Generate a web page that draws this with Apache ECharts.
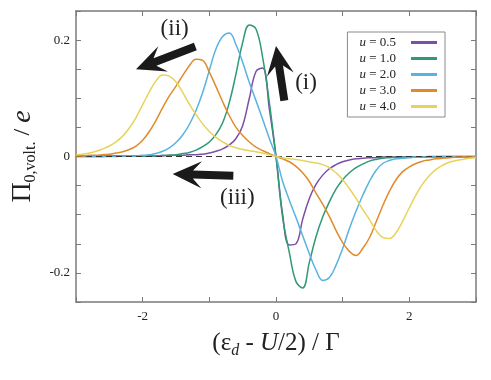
<!DOCTYPE html>
<html>
<head>
<meta charset="utf-8">
<script src="https://cdn.jsdelivr.net/npm/echarts@6/dist/echarts.min.js"></script>
<style>
  html, body { margin: 0; padding: 0; background: #fff; }
  #chart { width: 491px; height: 380px; }
</style>
</head>
<body>
<div id="chart"></div>
<script>
// (eps_d - U/2)/Gamma grid
const eps = [
  -3.0, -2.9, -2.8, -2.7, -2.6, -2.5, -2.4, -2.3, -2.2, -2.1,
  -2.0, -1.9, -1.8, -1.7, -1.6, -1.5, -1.4, -1.3, -1.2, -1.1,
  -1.0, -0.9, -0.8, -0.7, -0.6, -0.5, -0.4, -0.3, -0.2, -0.1,
  0,
  0.1, 0.2, 0.3, 0.4, 0.5, 0.6, 0.7, 0.8, 0.9, 1.0,
  1.1, 1.2, 1.3, 1.4, 1.5, 1.6, 1.7, 1.8, 1.9, 2.0,
  2.1, 2.2, 2.3, 2.4, 2.5, 2.6, 2.7, 2.8, 2.9, 3.0
];

const u05 = [
  0.001, 0.001, 0.001, 0.001, 0.001, 0.001, 0.001, 0.001, 0.001, 0.001,
  0.001, 0.001, 0.001, 0.001, 0.002, 0.002, 0.002, 0.003, 0.003, 0.004,
  0.006, 0.009, 0.013, 0.020, 0.031, 0.053, 0.100, 0.146, 0.152, 0.082,
  0,
  -0.100, -0.152, -0.150, -0.108, -0.072, -0.048, -0.032, -0.021, -0.014, -0.009,
  -0.006, -0.004, -0.003, -0.002, -0.002, -0.001, -0.001, -0.001, -0.001, -0.001,
  -0.001, -0.001, -0.001, -0.001, -0.001, -0.001, -0.001, -0.001, -0.001, -0.001
];
const u10 = [
  0.000, 0.000, 0.000, 0.000, 0.000, 0.001, 0.001, 0.001, 0.001, 0.001,
  0.001, 0.001, 0.001, 0.002, 0.002, 0.003, 0.005, 0.007, 0.011, 0.017,
  0.025, 0.038, 0.058, 0.093, 0.142, 0.196, 0.226, 0.219, 0.170, 0.093,
  0,
  -0.105, -0.165, -0.215, -0.226, -0.182, -0.138, -0.104, -0.078, -0.056, -0.040,
  -0.028, -0.019, -0.013, -0.008, -0.005, -0.003, -0.002, -0.001, -0.001, -0.001,
  -0.001, -0.001, 0.000, 0.000, 0.000, 0.000, 0.000, 0.000, 0.000, 0.000
];
const u20 = [
  0.000, 0.000, 0.000, 0.000, 0.000, 0.000, 0.000, 0.001, 0.001, 0.001,
  0.002, 0.003, 0.005, 0.009, 0.015, 0.024, 0.037, 0.055, 0.079, 0.110,
  0.148, 0.185, 0.206, 0.212, 0.192, 0.162, 0.127, 0.096, 0.064, 0.031,
  0,
  -0.043, -0.075, -0.105, -0.136, -0.167, -0.195, -0.213, -0.208, -0.187, -0.158,
  -0.124, -0.094, -0.067, -0.043, -0.024, -0.012, -0.007, -0.004, -0.003, -0.002,
  -0.001, -0.001, -0.001, -0.001, 0.000, 0.000, 0.000, 0.000, 0.000, 0.000
];
const u30 = [
  0.001, 0.001, 0.002, 0.002, 0.003, 0.004, 0.006, 0.008, 0.012, 0.018,
  0.028, 0.043, 0.062, 0.084, 0.104, 0.121, 0.139, 0.156, 0.167, 0.165,
  0.145, 0.120, 0.094, 0.070, 0.050, 0.036, 0.025, 0.016, 0.010, 0.005,
  0,
  -0.004, -0.009, -0.017, -0.028, -0.043, -0.063, -0.082, -0.103, -0.127, -0.148,
  -0.163, -0.170, -0.158, -0.140, -0.113, -0.085, -0.060, -0.040, -0.026, -0.018,
  -0.012, -0.008, -0.006, -0.004, -0.003, -0.002, -0.001, -0.001, -0.001, -0.001
];
const u40 = [
  0.003, 0.004, 0.006, 0.009, 0.013, 0.018, 0.025, 0.035, 0.049, 0.067,
  0.089, 0.111, 0.130, 0.140, 0.138, 0.128, 0.110, 0.090, 0.072, 0.056,
  0.043, 0.033, 0.025, 0.019, 0.015, 0.012, 0.010, 0.008, 0.006, 0.003,
  0,
  -0.002, -0.004, -0.005, -0.007, -0.009, -0.011, -0.014, -0.019, -0.028, -0.040,
  -0.055, -0.072, -0.091, -0.108, -0.127, -0.139, -0.141, -0.131, -0.111, -0.088,
  -0.066, -0.047, -0.033, -0.022, -0.015, -0.010, -0.007, -0.005, -0.003, -0.002
];

const names = ["0.5", "1.0", "2.0", "3.0", "4.0"];
const values = [u05, u10, u20, u30, u40];
const colors = ["#7b4fa6", "#2e9a76", "#58b3e2", "#e08b2b", "#e6d45a"];

const xTickLabels = [-2, 0, 2];
const yTickLabels = [-0.2, 0, 0.2];

// annotation arrows, in data units: [tail, tip]
const arrows = [
  { label: "(i)", from: [0.125, 0.096], to: [0.0, 0.190], labelAt: [0.45, 0.127] },
  { label: "(ii)", from: [-1.21, 0.189], to: [-2.10, 0.150], labelAt: [-1.52, 0.219] },
  { label: "(iii)", from: [-0.64, -0.033], to: [-1.55, -0.030], labelAt: [-0.58, -0.071] }
];

const serif = "'Liberation Serif', 'DejaVu Serif', serif";
const frame = "#7a7a7a";

const chart = echarts.init(document.getElementById("chart"));

chart.setOption({
  animation: false,
  backgroundColor: "#fff",
  grid: { left: 76, right: 15, top: 11, bottom: 78, outerBoundsMode: "none" },
  legend: {
    orient: "vertical",
    right: 46,
    top: 32,
    align: "right",
    icon: "rect",
    itemWidth: 26,
    itemHeight: 3,
    itemGap: 3,
    padding: [4, 8, 4, 12],
    borderColor: "#8a8a8a",
    borderWidth: 1,
    formatter: (n) => "{i|u} = " + n.replace("u = ", "") + "{s|}",
    textStyle: {
      fontFamily: serif,
      fontSize: 13,
      color: "#222",
      rich: {
        i: { fontFamily: serif, fontSize: 13, fontStyle: "italic", color: "#222" },
        s: { width: 10 }
      }
    }
  },
  xAxis: [
    {
      type: "value",
      min: -3,
      max: 3,
      interval: 1,
      name: "{t|(ε}{d|d}{t| - }{it|U}{t|/2) / Γ}",
      nameLocation: "middle",
      nameGap: 26,
      nameTextStyle: {
        rich: {
          t: { fontFamily: serif, fontSize: 25, color: "#222" },
          it: { fontFamily: serif, fontSize: 25, fontStyle: "italic", color: "#222" },
          d: { fontFamily: serif, fontSize: 16, fontStyle: "italic", color: "#222", padding: [15, 0, 0, 0] }
        }
      },
      axisLine: { onZero: false, lineStyle: { color: frame, width: 1.5 } },
      axisTick: { inside: true, length: 5, lineStyle: { color: frame, width: 1 } },
      splitLine: { show: false },
      axisLabel: {
        margin: 8,
        fontFamily: serif,
        fontSize: 13,
        color: "#222",
        formatter: (v) => (xTickLabels.some((t) => Math.abs(t - v) < 1e-6) ? String(v) : "")
      }
    },
    {
      type: "value",
      position: "top",
      min: -3,
      max: 3,
      interval: 1,
      axisLine: { show: true, onZero: false, lineStyle: { color: frame, width: 1.5 } },
      axisTick: { inside: true, length: 5, lineStyle: { color: frame, width: 1 } },
      axisLabel: { show: false },
      splitLine: { show: false }
    }
  ],
  yAxis: [
    {
      type: "value",
      min: -0.25,
      max: 0.25,
      interval: 0.05,
      name: "{p|Π}{s|0,volt.}{t| / }{e|e}",
      nameLocation: "middle",
      nameRotate: 90,
      nameGap: 32,
      nameTextStyle: {
        rich: {
          p: { fontFamily: serif, fontSize: 28, color: "#222" },
          t: { fontFamily: serif, fontSize: 24, color: "#222" },
          e: { fontFamily: serif, fontSize: 28, fontStyle: "italic", color: "#222" },
          s: { fontFamily: serif, fontSize: 16, color: "#222", padding: [16, 0, 0, 0] }
        }
      },
      axisLine: { show: true, onZero: false, lineStyle: { color: frame, width: 1.5 } },
      axisTick: { show: true, inside: true, length: 5, lineStyle: { color: frame, width: 1 } },
      splitLine: { show: false },
      axisLabel: {
        margin: 6,
        fontFamily: serif,
        fontSize: 13,
        color: "#222",
        formatter: (v) => {
          const hit = yTickLabels.find((t) => Math.abs(t - v) < 1e-6);
          return hit === undefined ? "" : String(hit);
        }
      }
    },
    {
      type: "value",
      position: "right",
      min: -0.25,
      max: 0.25,
      interval: 0.05,
      axisLine: { show: true, onZero: false, lineStyle: { color: frame, width: 1.5 } },
      axisTick: { show: true, inside: true, length: 5, lineStyle: { color: frame, width: 1 } },
      axisLabel: { show: false },
      splitLine: { show: false }
    }
  ],
  series: values.map((vals, k) => ({
    type: "line",
    name: "u = " + names[k],
    data: eps.map((x, i) => [x, vals[i]]),
    smooth: 0.4,
    showSymbol: false,
    color: colors[k],
    lineStyle: { width: 1.5, color: colors[k] },
    z: 2 + k,
    markLine: k === values.length - 1 ? {
      silent: true,
      symbol: "none",
      label: { show: false },
      lineStyle: { color: "#333", type: [6, 4], width: 1 },
      data: [{ yAxis: 0 }]
    } : undefined
  }))
});

// arrows drawn as polygons from data coords
function arrowShape(a, b, shaftW, headL, headW) {
  const dx = b[0] - a[0], dy = b[1] - a[1];
  const len = Math.sqrt(dx * dx + dy * dy);
  const ux = dx / len, uy = dy / len;
  const nx = -uy, ny = ux;
  const base = [b[0] - ux * headL, b[1] - uy * headL];
  const neck = [b[0] - ux * headL * 0.7, b[1] - uy * headL * 0.7];
  return [
    b,
    [base[0] + nx * headW / 2, base[1] + ny * headW / 2],
    [neck[0] + nx * shaftW / 2, neck[1] + ny * shaftW / 2],
    [a[0] + nx * shaftW / 2, a[1] + ny * shaftW / 2],
    [a[0] - nx * shaftW / 2, a[1] - ny * shaftW / 2],
    [neck[0] - nx * shaftW / 2, neck[1] - ny * shaftW / 2],
    [base[0] - nx * headW / 2, base[1] - ny * headW / 2]
  ];
}

const gfx = [];
arrows.forEach((ar) => {
  const a = chart.convertToPixel({ gridIndex: 0 }, ar.from);
  const b = chart.convertToPixel({ gridIndex: 0 }, ar.to);
  const p = chart.convertToPixel({ gridIndex: 0 }, ar.labelAt);
  gfx.push({
    type: "polygon",
    z: 50,
    shape: { points: arrowShape(a, b, 8, 29, 27) },
    style: { fill: "#1a1a1a" }
  });
  gfx.push({
    type: "text",
    z: 50,
    x: p[0],
    y: p[1],
    style: {
      text: ar.label,
      font: "23px " + serif,
      fill: "#222",
      align: "center",
      verticalAlign: "middle"
    }
  });
});
chart.setOption({ graphic: gfx });
</script>
</body>
</html>
